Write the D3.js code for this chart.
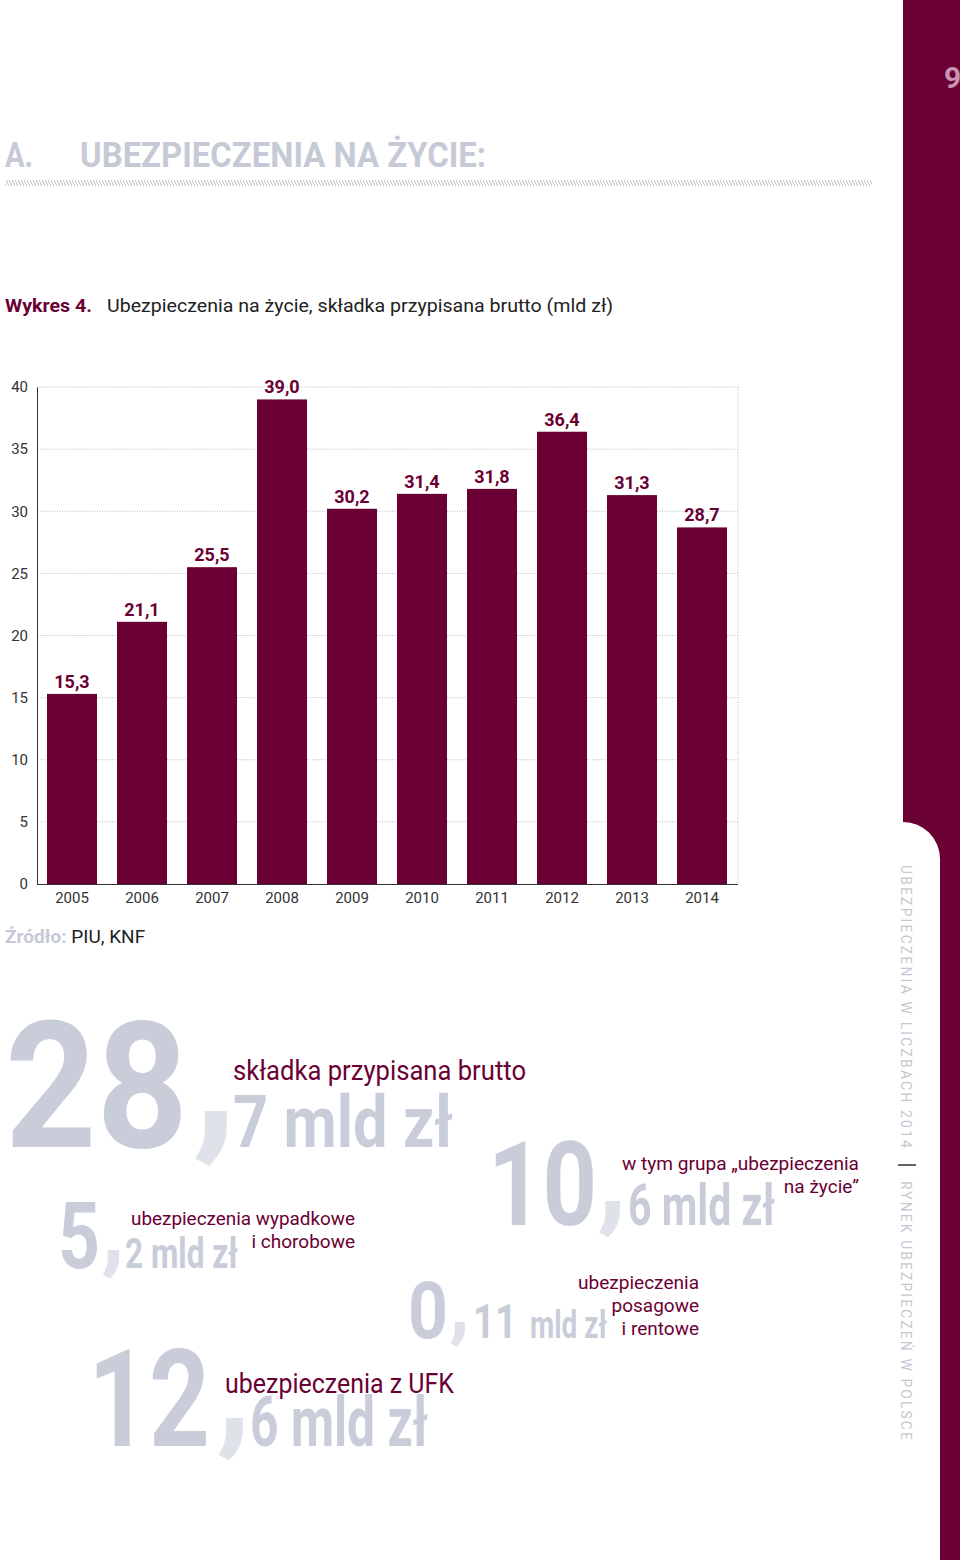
<!DOCTYPE html>
<html>
<head>
<meta charset="utf-8">
<script src="https://d3js.org/d3.v7.min.js"></script>
<style>
  body { margin: 0; background: #fff; }
  svg { display: block; font-family: Roboto, "Noto Sans", sans-serif; }
</style>
</head>
<body>
<div id="chart"></div>
<script>
// chart data
var years = ["2005", "2006", "2007", "2008", "2009", "2010", "2011", "2012", "2013", "2014"];
var premiums = [15.3, 21.1, 25.5, 39.0, 30.2, 31.4, 31.8, 36.4, 31.3, 28.7];
var yTicks = [0, 5, 10, 15, 20, 25, 30, 35, 40];

// infographic figures (2014)
var figWhole = ["28", "5", "10", "0", "12"];
var figFrac = ["7", "2", "6", "11", "6"];
var figUnit = ["mld zł", "mld zł", "mld zł", "mld zł", "mld zł"];
var figLabels = [
    ["składka przypisana brutto"],
    ["ubezpieczenia wypadkowe", "i chorobowe"],
    ["w tym grupa „ubezpieczenia", "na życie”"],
    ["ubezpieczenia", "posagowe", "i rentowe"],
    ["ubezpieczenia z UFK"]
];

var maroon = "#6a0033";
var pale = "#c8cdd9";
var paler = "#dfe2e9";

var W = 960, H = 1560;
var svg = d3.select("#chart").append("svg").attr("width", W).attr("height", H);

var defs = svg.append("defs");
defs.append("pattern")
    .attr("id", "hatch")
    .attr("patternUnits", "userSpaceOnUse")
    .attr("width", 3).attr("height", 6)
    .append("path")
    .attr("d", "M-1,-2 L4,8")
    .attr("stroke", "#b4b9c6")
    .attr("stroke-width", 1);

// side bar
svg.append("rect").attr("x", 903).attr("y", 0).attr("width", 57).attr("height", H).attr("fill", maroon);
svg.append("path").attr("d", "M898,822 H903 A37,37 0 0 1 940,859 V" + H + " H898 Z").attr("fill", "#fff");
svg.append("text").attr("x", 944).attr("y", 88)
    .attr("font-size", 30).attr("font-weight", "bold").attr("fill", "#c794b4").text("9");

var side = svg.append("g").attr("transform", "translate(901,865) rotate(90)");
side.append("text").attr("x", 0).attr("y", 0)
    .attr("font-size", 14).attr("letter-spacing", 2.2).attr("fill", "#c4c8d2")
    .attr("textLength", 285).attr("lengthAdjust", "spacingAndGlyphs")
    .text("UBEZPIECZENIA W LICZBACH 2014");
side.append("line").attr("x1", 300).attr("x2", 300).attr("y1", -15).attr("y2", 3)
    .attr("stroke", "#333").attr("stroke-width", 1.5);
side.append("text").attr("x", 316).attr("y", 0)
    .attr("font-size", 14).attr("letter-spacing", 2.2).attr("fill", "#c4c8d2")
    .attr("textLength", 261).attr("lengthAdjust", "spacingAndGlyphs")
    .text("RYNEK UBEZPIECZEŃ W POLSCE");

// heading
svg.append("text").attr("x", 5).attr("y", 167)
    .attr("font-size", 35).attr("font-weight", "bold").attr("fill", "#c5cad6")
    .attr("textLength", 28).attr("lengthAdjust", "spacingAndGlyphs").text("A.");
svg.append("text").attr("x", 80).attr("y", 167)
    .attr("font-size", 35).attr("font-weight", "bold").attr("fill", "#c5cad6")
    .attr("textLength", 406).attr("lengthAdjust", "spacingAndGlyphs").text("UBEZPIECZENIA NA ŻYCIE:");
svg.append("rect").attr("x", 5).attr("y", 180).attr("width", 867).attr("height", 6).attr("fill", "url(#hatch)");

// chart title
svg.append("text").attr("x", 5).attr("y", 312)
    .attr("font-size", 19).attr("font-weight", "bold").attr("fill", maroon)
    .attr("textLength", 87).attr("lengthAdjust", "spacingAndGlyphs").text("Wykres 4.");
svg.append("text").attr("x", 107).attr("y", 312)
    .attr("font-size", 19).attr("fill", "#222")
    .attr("textLength", 506).attr("lengthAdjust", "spacingAndGlyphs")
    .text("Ubezpieczenia na życie, składka przypisana brutto (mld zł)");

// bar chart
var x = d3.scaleBand().domain(years).range([37, 737]).paddingInner(2 / 7).paddingOuter(1 / 7);
var y = d3.scaleLinear().domain([0, 40]).range([884, 387]);

var chart = svg.append("g");

chart.append("g").selectAll("line").data(yTicks.filter(function (d) { return d > 0; }))
    .enter().append("line")
    .attr("x1", 37).attr("x2", 738)
    .attr("y1", function (d) { return y(d); }).attr("y2", function (d) { return y(d); })
    .attr("stroke", "#b9b9b9").attr("stroke-width", 1).attr("stroke-dasharray", "1,1.5");
chart.append("line").attr("x1", 738).attr("x2", 738).attr("y1", y(40)).attr("y2", y(0))
    .attr("stroke", "#b9b9b9").attr("stroke-dasharray", "1,1.5");

var yAxis = chart.append("g").attr("transform", "translate(37,0)")
    .call(d3.axisLeft(y).tickValues(yTicks).tickSize(0).tickPadding(9));
yAxis.select(".domain").attr("stroke", "#333");
yAxis.selectAll("text").attr("font-size", 15).attr("fill", "#333").attr("font-family", "Roboto");

chart.selectAll("rect.bar").data(premiums).enter().append("rect")
    .attr("class", "bar")
    .attr("x", function (d, i) { return x(years[i]); })
    .attr("width", x.bandwidth())
    .attr("y", function (d) { return y(d); })
    .attr("height", function (d) { return y(0) - y(d); })
    .attr("fill", maroon);

chart.selectAll("text.val").data(premiums).enter().append("text")
    .attr("class", "val")
    .attr("x", function (d, i) { return x(years[i]) + x.bandwidth() / 2; })
    .attr("y", function (d) { return y(d) - 6; })
    .attr("text-anchor", "middle")
    .attr("font-size", 18).attr("font-weight", "bold").attr("fill", maroon)
    .text(function (d) { return d.toFixed(1).replace(".", ","); });

var xAxis = chart.append("g").attr("transform", "translate(0," + y(0) + ")")
    .call(d3.axisBottom(x).tickSize(0).tickPadding(8));
xAxis.select(".domain").attr("stroke", "#333").attr("d", "M37,0.5H738");
xAxis.selectAll("text").attr("font-size", 15).attr("fill", "#333").attr("font-family", "Roboto");

// source
svg.append("text").attr("x", 5).attr("y", 943).attr("font-size", 19)
    .call(function (t) {
        t.append("tspan").attr("fill", "#c5cad6").attr("font-weight", "bold").text("Źródło: ");
        t.append("tspan").attr("fill", "#222").text("PIU, KNF");
    });

// infographic layout: whole part, comma, fraction + unit, caption
var figLayout = [
    { wx: 5, wy: 1147, ws: 176, ww: 183, cx: 192, fx: 233, fs: 72, fw: 220, uw: null,
      lx: 233, ly: 1080, ls: 27, la: "start", lw: 293 },
    { wx: 58, wy: 1268, ws: 92, ww: 42, cx: 101, fx: 125, fs: 43, fw: 113, uw: null,
      lx: 355, ly: 1225, ls: 19, la: "end", lw: 224 },
    { wx: 488, wy: 1225, ws: 116, ww: 109, cx: 597, fx: 628, fs: 58, fw: 147, uw: null,
      lx: 859, ly: 1170, ls: 19, la: "end", lw: 237 },
    { wx: 408, wy: 1338, ws: 80, ww: 40, cx: 449, fx: 473, fs: 48, fw: 44, uw: 77,
      lx: 699, ly: 1289, ls: 19, la: "end", lw: 121 },
    { wx: 88, wy: 1446, ws: 136, ww: 122, cx: 216, fx: 250, fs: 70, fw: 178, uw: null,
      lx: 225, ly: 1393, ls: 27, la: "start", lw: 229 }
];

var figs = svg.append("g").attr("font-weight", "bold");
figLayout.forEach(function (L, i) {
    figs.append("text").attr("x", L.wx).attr("y", L.wy)
        .attr("font-size", L.ws).attr("fill", pale)
        .attr("textLength", L.ww).attr("lengthAdjust", "spacingAndGlyphs")
        .text(figWhole[i]);
    // oversized comma, lifted a little so its head sits above the baseline
    figs.append("text").attr("x", L.cx).attr("y", L.wy - L.ws * 0.08)
        .attr("font-size", L.ws * 1.05).attr("fill", paler).text(",");
    if (L.uw) {
        figs.append("text").attr("x", L.fx).attr("y", L.wy)
            .attr("font-size", L.fs).attr("fill", pale)
            .attr("textLength", L.fw).attr("lengthAdjust", "spacingAndGlyphs")
            .text(figFrac[i]);
        figs.append("text").attr("x", L.fx + L.fw + 13).attr("y", L.wy)
            .attr("font-size", L.fs * 0.8).attr("fill", pale)
            .attr("textLength", L.uw).attr("lengthAdjust", "spacingAndGlyphs")
            .text(figUnit[i]);
    } else {
        figs.append("text").attr("x", L.fx).attr("y", L.wy)
            .attr("font-size", L.fs).attr("fill", pale)
            .attr("textLength", L.fw).attr("lengthAdjust", "spacingAndGlyphs")
            .text(figFrac[i] + " " + figUnit[i]);
    }
    figLabels[i].forEach(function (line, j) {
        var t = svg.append("text").attr("x", L.lx).attr("y", L.ly + j * L.ls * 1.2)
            .attr("font-size", L.ls).attr("fill", maroon).attr("text-anchor", L.la)
            .text(line);
        if (j === 0) t.attr("textLength", L.lw).attr("lengthAdjust", "spacingAndGlyphs");
    });
});
</script>
</body>
</html>
